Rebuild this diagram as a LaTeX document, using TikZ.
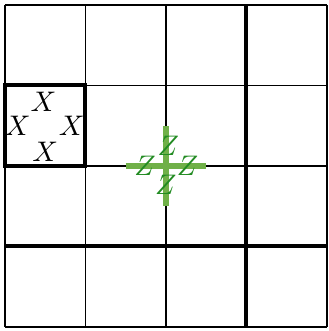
\documentclass[tikz,border=0pt]{standalone}
\definecolor{barGreen}{RGB}{112,176,72}
\definecolor{zGreen}{RGB}{34,139,34}
\begin{document}
\begin{tikzpicture}[x=1cm,y=1cm,
  gridline/.style={line width=0.5pt},
  heavy/.style={line width=1.4pt},
  crossbar/.style={line width=1.9pt, color=barGreen},
  xlab/.style={font=\normalsize, inner sep=0pt},
  zlab/.style={font=\normalsize, inner sep=0pt, text=zGreen}]
\useasboundingbox (-0.06,-0.05) rectangle (4.015,4.06);
\draw[gridline] (0,0) grid (4,4);
\draw[heavy] (3,0) -- (3,4);
\draw[heavy] (0,1) -- (4,1);
\draw[heavy] (0,2) rectangle (1,3);
% X labels
\node[xlab] (xt) at (0.48,2.80) {$X$};
\node[xlab] (xl) at (0.16,2.5) {$X$};
\node[xlab] (xr) at (0.83,2.5) {$X$};
\node[xlab] (xb) at (0.50,2.18) {$X$};
% green cross
\draw[crossbar] (1.5,2) -- (2.5,2);
\draw[crossbar] (2,1.5) -- (2,2.5);
\node[zlab] (zt) at (2.03,2.25) {$Z$};
\node[zlab] (zl) at (1.74,2.0) {$Z$};
\node[zlab] (zr) at (2.27,2.0) {$Z$};
\node[zlab] (zb) at (2.0,1.76) {$Z$};
\end{tikzpicture}
\end{document}
